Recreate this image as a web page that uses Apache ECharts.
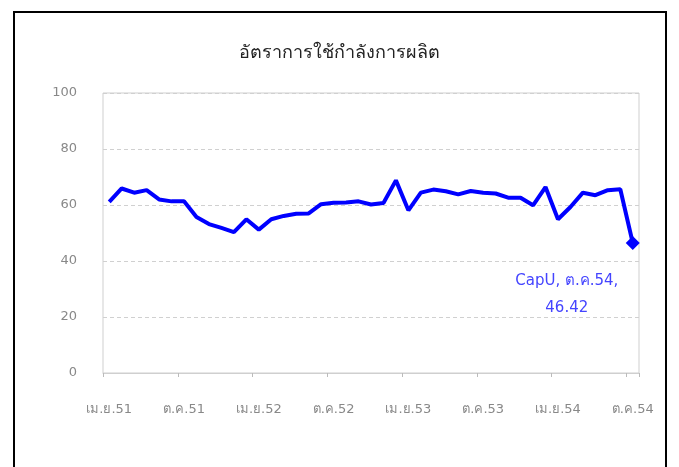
<!DOCTYPE html>
<html>
<head>
<meta charset="utf-8">
<script src="https://cdn.jsdelivr.net/npm/echarts@6/dist/echarts.min.js"></script>
<style>
  html, body { margin: 0; padding: 0; background: #fff; }
  #main { width: 679px; height: 467px; }
</style>
</head>
<body>
<div id="main"></div>
<script>
// เดือน เม.ย.51 - ต.ค.54
var months = [
  'เม.ย.51', 'พ.ค.51', 'มิ.ย.51', 'ก.ค.51', 'ส.ค.51', 'ก.ย.51',
  'ต.ค.51', 'พ.ย.51', 'ธ.ค.51', 'ม.ค.52', 'ก.พ.52', 'มี.ค.52',
  'เม.ย.52', 'พ.ค.52', 'มิ.ย.52', 'ก.ค.52', 'ส.ค.52', 'ก.ย.52',
  'ต.ค.52', 'พ.ย.52', 'ธ.ค.52', 'ม.ค.53', 'ก.พ.53', 'มี.ค.53',
  'เม.ย.53', 'พ.ค.53', 'มิ.ย.53', 'ก.ค.53', 'ส.ค.53', 'ก.ย.53',
  'ต.ค.53', 'พ.ย.53', 'ธ.ค.53', 'ม.ค.54', 'ก.พ.54', 'มี.ค.54',
  'เม.ย.54', 'พ.ค.54', 'มิ.ย.54', 'ก.ค.54', 'ส.ค.54', 'ก.ย.54',
  'ต.ค.54'
]
var capU = [
  61.1, 65.9, 64.4, 65.3, 62.0, 61.3,
  61.3, 55.7, 53.2, 51.8, 50.3, 54.9,
  51.2, 54.9, 56.1, 56.9, 57.0, 60.3,
  60.8, 60.9, 61.3, 60.2, 60.7, 68.8,
  58.1, 64.4, 65.5, 64.9, 63.8, 65.0,
  64.4, 64.1, 62.6, 62.6, 59.9, 66.4,
  54.9, 59.3, 64.4, 63.5, 65.3, 65.6,
  46.42
]
var yTicks = [0, 20, 40, 60, 80, 100]

var fontTh = 'Tahoma, "DejaVu Sans", "Noto Sans", sans-serif'

let myChart = echarts.init(document.getElementById('main'), null, { renderer: 'canvas' })

let lastIdx = capU.length - 1
let seriesData = capU.map(function (v, i) {
  if (i !== lastIdx) return v
  return {
    value: v,
    symbol: 'diamond',
    symbolSize: 14,
    label: {
      show: true,
      position: 'inside',
      offset: [-66, 52],
      align: 'center',
      verticalAlign: 'middle',
      formatter: 'CapU, ' + months[i] + ',\n' + v.toFixed(2),
      color: '#4444ff',
      fontSize: 15,
      lineHeight: 27,
      fontFamily: fontTh
    }
  }
})

myChart.setOption({
  animation: false,
  graphic: [{
    type: 'rect',
    shape: { x: 14, y: 12, width: 652, height: 470 },
    style: { fill: 'none', stroke: '#000', lineWidth: 2 }
  }],
  title: {
    text: 'อัตราการใช้กำลังการผลิต',
    left: 'center',
    top: 39,
    textStyle: { fontSize: 18, fontWeight: 'normal', color: '#222', fontFamily: fontTh }
  },
  grid: {
    left: 103,
    right: 40,
    top: 93,
    bottom: 94,
    show: true,
    borderColor: '#cfcfcf',
    borderWidth: 1
  },
  xAxis: {
    type: 'category',
    data: months,
    boundaryGap: true,
    axisLine: { lineStyle: { color: '#cfcfcf', width: 1 } },
    axisTick: { show: true, interval: 5, length: 4, lineStyle: { color: '#bbb' } },
    axisLabel: {
      interval: 5,
      margin: 30,
      color: '#888',
      fontSize: 13,
      fontFamily: fontTh
    },
    splitLine: { show: false }
  },
  yAxis: {
    type: 'value',
    min: yTicks[0],
    max: yTicks[yTicks.length - 1],
    interval: 20,
    axisLine: { show: false },
    axisTick: { show: false },
    axisLabel: { margin: 26, color: '#888', fontSize: 13, fontFamily: fontTh },
    splitLine: { lineStyle: { color: '#d0d0d0', type: [4, 3] } }
  },
  series: [{
    name: 'CapU',
    type: 'line',
    data: seriesData,
    symbol: 'none',
    lineStyle: { color: '#0000ff', width: 4 },
    itemStyle: { color: '#0000ff' },
    z: 3
  }]
})
</script>
</body>
</html>
